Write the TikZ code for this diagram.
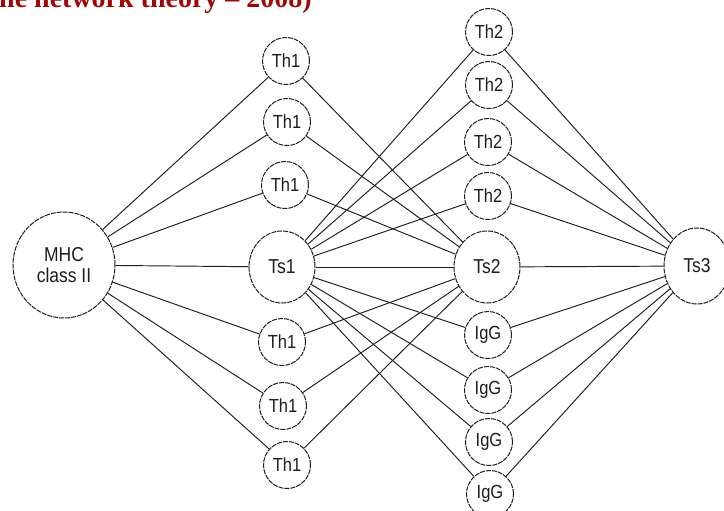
\documentclass[tikz,border=0pt]{standalone}
\usepackage{fontspec}
\setmainfont{Liberation Sans}
\newfontfamily\titlefont{Liberation Serif}
\usetikzlibrary{shapes.geometric}
\definecolor{titlered}{RGB}{160,8,8}
\definecolor{ink}{RGB}{30,30,30}
\newcommand{\tall}[1]{\scalebox{1}[1.15]{#1}}
\tikzset{
  cell/.style={ellipse, draw=ink, line width=1pt, dash pattern=on 5pt off 1pt,
    inner sep=0pt, fill=white, font=\fontsize{16.5}{18}\selectfont, text=ink},
  small/.style={cell, minimum width=47pt, minimum height=47pt},
  mid/.style={cell, minimum width=66pt, minimum height=72pt, font=\fontsize{17.5}{19}\selectfont},
  big/.style={cell, minimum width=102pt, minimum height=106pt, font=\fontsize{17.5}{22}\selectfont, align=center},
  link/.style={draw=ink, line width=0.95pt}
}
\begin{document}
\begin{tikzpicture}[x=1pt,y=-1pt]
\fill[white] (0,0) rectangle (724,511);
\clip (0,0) rectangle (724,511);

% heading fragment
\node[anchor=base west, inner sep=0pt, text=titlered,
  font=\titlefont\bfseries\fontsize{28}{30}\selectfont] (title) at (-1,8)
  {he network theory – 2008)};

% nodes
\node[big] (mhc) at (64,265) {\tall{MHC}\\[-1pt]\tall{class II}};

\node[small] (tha) at (286,61)  {\tall{Th1}};
\node[small] (thb) at (287,122) {\tall{Th1}};
\node[small] (thc) at (285,185) {\tall{Th1}};
\node[mid]   (ts1) at (282,267) {\tall{Ts1}};
\node[small] (thd) at (282,342) {\tall{Th1}};
\node[small] (the) at (283,406) {\tall{Th1}};
\node[small] (thf) at (287,465) {\tall{Th1}};

\node[small] (tta) at (489,32)  {\tall{Th2}};
\node[small] (ttb) at (489,85)  {\tall{Th2}};
\node[small] (ttc) at (488,142) {\tall{Th2}};
\node[small] (ttd) at (488,196) {\tall{Th2}};
\node[mid]   (ts2) at (487,267) {\tall{Ts2}};
\node[small] (iga) at (488,335) {\tall{IgG}};
\node[small] (igb) at (488,390) {\tall{IgG}};
\node[small] (igc) at (489,442) {\tall{IgG}};
\node[small] (igd) at (490,494) {\tall{IgG}};

\node[mid, minimum height=76pt] (ts3) at (697,266) {\tall{Ts3}};

% connectors
\foreach \n in {tha,thb,thc,ts1,thd,the,thf} {
  \draw[link] (mhc) -- (\n);
  \draw[link] (\n) -- (ts2);
}
\foreach \n in {tta,ttb,ttc,ttd,iga,igb,igc,igd} {
  \draw[link] (ts1) -- (\n);
  \draw[link] (\n) -- (ts3);
}
\draw[link] (ts2) -- (ts3);
\end{tikzpicture}
\end{document}
